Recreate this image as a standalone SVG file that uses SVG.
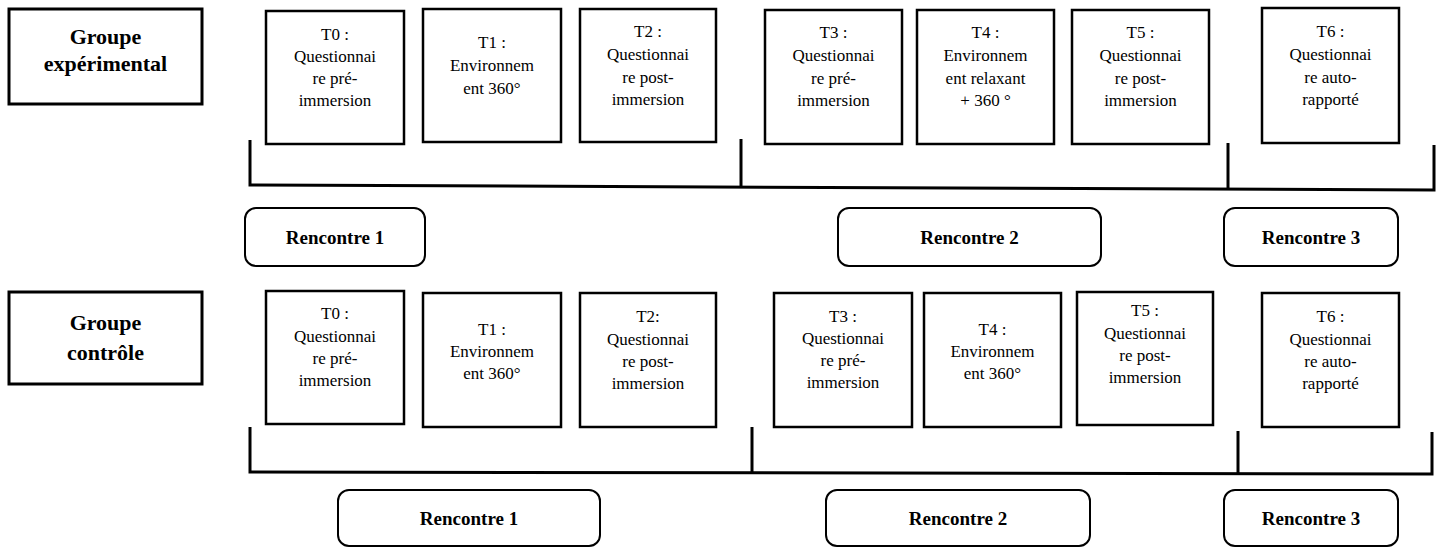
<svg xmlns="http://www.w3.org/2000/svg" width="1448" height="549" viewBox="0 0 1448 549" font-family="'Liberation Serif', 'Times New Roman', 'DejaVu Serif', serif">
<style>
.box{fill:#fff;stroke:#000;stroke-width:2.5}
.grp{fill:#fff;stroke:#000;stroke-width:3}
.ren{fill:#fff;stroke:#000;stroke-width:2}
text{font-family:'Liberation Serif','Times New Roman','DejaVu Serif',serif;fill:#000;text-anchor:middle}
.t{font-size:17px}
.b{font-size:22px;font-weight:bold}
.r{font-size:19px;font-weight:bold}
.br{fill:none;stroke:#000;stroke-width:3}
</style>
<rect width="1448" height="549" fill="#fff"/>
<!-- top row -->
<g id="grp-exp"><rect class="grp" x="9" y="9" width="193" height="95"/><text class="b" x="105.5" y="44">Groupe</text><text class="b" x="105.5" y="71">expérimental</text></g>
<g id="e-t0"><rect class="box" x="266" y="11" width="138" height="133"/><text class="t" x="335" y="40">T0 :</text><text class="t" x="335" y="62">Questionnai</text><text class="t" x="335" y="84">re pré-</text><text class="t" x="335" y="106">immersion</text></g>
<g id="e-t1"><rect class="box" x="423" y="9" width="138" height="133"/><text class="t" x="492" y="48">T1 :</text><text class="t" x="492" y="71">Environnem</text><text class="t" x="492" y="94">ent 360°</text></g>
<g id="e-t2"><rect class="box" x="580" y="9" width="136" height="133"/><text class="t" x="648" y="37">T2 :</text><text class="t" x="648" y="60">Questionnai</text><text class="t" x="648" y="83">re post-</text><text class="t" x="648" y="105">immersion</text></g>
<g id="e-t3"><rect class="box" x="765" y="10" width="137" height="134"/><text class="t" x="833.5" y="38">T3 :</text><text class="t" x="833.5" y="61">Questionnai</text><text class="t" x="833.5" y="84">re pré-</text><text class="t" x="833.5" y="106">immersion</text></g>
<g id="e-t4"><rect class="box" x="917" y="10" width="137" height="134"/><text class="t" x="985.5" y="38">T4 :</text><text class="t" x="985.5" y="61">Environnem</text><text class="t" x="985.5" y="84">ent relaxant</text><text class="t" x="985.5" y="106">+ 360 °</text></g>
<g id="e-t5"><rect class="box" x="1072" y="10" width="137" height="134"/><text class="t" x="1140.5" y="38">T5 :</text><text class="t" x="1140.5" y="61">Questionnai</text><text class="t" x="1140.5" y="84">re post-</text><text class="t" x="1140.5" y="106">immersion</text></g>
<g id="e-t6"><rect class="box" x="1262" y="8" width="137" height="135"/><text class="t" x="1330.5" y="37">T6 :</text><text class="t" x="1330.5" y="60">Questionnai</text><text class="t" x="1330.5" y="83">re auto-</text><text class="t" x="1330.5" y="105">rapporté</text></g>
<g id="e-r1"><rect class="ren" x="245" y="208" width="180" height="58" rx="11"/><text class="r" x="335" y="244">Rencontre 1</text></g>
<g id="e-r2"><rect class="ren" x="838" y="208" width="263" height="58" rx="11"/><text class="r" x="969.5" y="244">Rencontre 2</text></g>
<g id="e-r3"><rect class="ren" x="1224" y="208" width="174" height="58" rx="11"/><text class="r" x="1311" y="244">Rencontre 3</text></g>
<!-- bottom row -->
<g id="grp-ctl"><rect class="grp" x="9" y="292" width="193" height="92"/><text class="b" x="105.5" y="330">Groupe</text><text class="b" x="105.5" y="360">contrôle</text></g>
<g id="c-t0"><rect class="box" x="266" y="291" width="138" height="133"/><text class="t" x="335" y="319">T0 :</text><text class="t" x="335" y="342">Questionnai</text><text class="t" x="335" y="364">re pré-</text><text class="t" x="335" y="386">immersion</text></g>
<g id="c-t1"><rect class="box" x="423" y="293" width="138" height="134"/><text class="t" x="492" y="335">T1 :</text><text class="t" x="492" y="357">Environnem</text><text class="t" x="492" y="379">ent 360°</text></g>
<g id="c-t2"><rect class="box" x="580" y="293" width="136" height="134"/><text class="t" x="648" y="322">T2:</text><text class="t" x="648" y="345">Questionnai</text><text class="t" x="648" y="367">re post-</text><text class="t" x="648" y="389">immersion</text></g>
<g id="c-t3"><rect class="box" x="774" y="293" width="138" height="134"/><text class="t" x="843" y="322">T3 :</text><text class="t" x="843" y="344">Questionnai</text><text class="t" x="843" y="366">re pré-</text><text class="t" x="843" y="388">immersion</text></g>
<g id="c-t4"><rect class="box" x="924" y="293" width="137" height="134"/><text class="t" x="992.5" y="335">T4 :</text><text class="t" x="992.5" y="357">Environnem</text><text class="t" x="992.5" y="379">ent 360°</text></g>
<g id="c-t5"><rect class="box" x="1077" y="292" width="136" height="133"/><text class="t" x="1145" y="316">T5 :</text><text class="t" x="1145" y="339">Questionnai</text><text class="t" x="1145" y="361">re post-</text><text class="t" x="1145" y="383">immersion</text></g>
<g id="c-t6"><rect class="box" x="1262" y="293" width="137" height="134"/><text class="t" x="1330.5" y="322">T6 :</text><text class="t" x="1330.5" y="345">Questionnai</text><text class="t" x="1330.5" y="367">re auto-</text><text class="t" x="1330.5" y="389">rapporté</text></g>
<g id="c-r1"><rect class="ren" x="338" y="490" width="262" height="56" rx="11"/><text class="r" x="469" y="525">Rencontre 1</text></g>
<g id="c-r2"><rect class="ren" x="826" y="490" width="264" height="56" rx="11"/><text class="r" x="958" y="525">Rencontre 2</text></g>
<g id="c-r3"><rect class="ren" x="1224" y="490" width="174" height="56" rx="11"/><text class="r" x="1311" y="525">Rencontre 3</text></g>
<!-- brackets -->
<g id="connectors">
<path class="br" d="M250 140 V185 L1434 190 V145"/>
<path class="br" d="M741 139 V186.5"/>
<path class="br" d="M1228 143 V188.5"/>
<path class="br" d="M250 427 V472 L1432 474 V432"/>
<path class="br" d="M752 427 V472.5"/>
<path class="br" d="M1238 431 V473.5"/>
</g>
</svg>
